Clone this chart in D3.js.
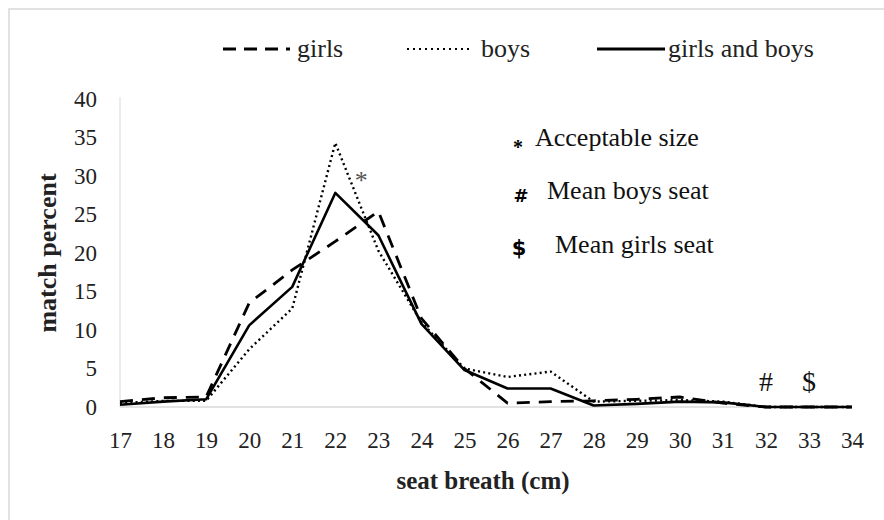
<!DOCTYPE html>
<html><head><meta charset="utf-8">
<script src="https://cdn.jsdelivr.net/npm/d3@7"></script>
<style>body{margin:0;background:#fff}svg{display:block;font-family:"Liberation Serif","Times New Roman",serif}</style>
</head><body><svg id="c" width="884" height="520"></svg>
<script>
const categories = [17,18,19,20,21,22,23,24,25,26,27,28,29,30,31,32,33,34];
const girls = [0.7,1.2,1.3,13.5,17.8,21.5,25.4,11.5,5,0.5,0.7,0.8,1,1.3,0.5,0,0,0];
const boys = [0.5,0.8,0.8,7.5,12.8,34.3,20.3,11,5,3.9,4.6,0.7,0.8,0.9,0.7,0,0,0];
const both = [0.3,0.7,1,10.6,15.6,27.8,22.3,10.8,4.8,2.4,2.4,0.2,0.4,0.7,0.6,0,0,0];
const yTicks = [0,5,10,15,20,25,30,35,40];
const seriesNames = ["girls","boys","girls and boys"];
const notes = [["*","Acceptable size"],["#","Mean boys seat"],["$","Mean girls seat"]];
const marks = [[22.6,"*"],[32,"#"],[33,"$"]];

const svg = d3.select("#c");
svg.append("rect").attr("x",9).attr("y",9).attr("width",900).attr("height",540)
  .attr("fill","none").attr("stroke","#d9d9d9").attr("stroke-width",1.5);

const x = d3.scaleLinear().domain([17,34]).range([120,852]);
const y = d3.scaleLinear().domain([0,40]).range([407,99]);

svg.append("line").attr("x1",120).attr("x2",120).attr("y1",y(40)-2).attr("y2",y(0)).attr("stroke","#d9d9d9").attr("stroke-width",1);
svg.append("line").attr("x1",120).attr("x2",852).attr("y1",y(0)).attr("y2",y(0)).attr("stroke","#d9d9d9").attr("stroke-width",1.5);

const yAxis = svg.append("g").attr("transform","translate(120,0)")
  .call(d3.axisLeft(y).tickValues(yTicks).tickSize(0).tickPadding(23));
yAxis.select(".domain").remove();
yAxis.selectAll("text").attr("font-size",23).attr("fill","#222").attr("font-family","Liberation Serif");

const xAxis = svg.append("g").attr("transform","translate(0,"+y(0)+")")
  .call(d3.axisBottom(x).tickValues(categories).tickFormat(d3.format("d")).tickSize(0).tickPadding(25));
xAxis.select(".domain").remove();
xAxis.selectAll("text").attr("font-size",23).attr("fill","#222").attr("font-family","Liberation Serif");

const styles = [
  {data:girls, dash:"13,9", w:2.8},
  {data:boys, dash:"2,3.2", w:2.4},
  {data:both, dash:null, w:2.6}
];
const line = d3.line().x((d,i)=>x(categories[i])).y(d=>y(d));
styles.forEach(s=>{
  svg.append("path").attr("d",line(s.data)).attr("fill","none").attr("stroke","#000")
    .attr("stroke-width",s.w).attr("stroke-dasharray",s.dash).attr("stroke-linejoin","round");
});

// legend
const leg = [[223,290,297],[407,470,481],[597,665,668]];
leg.forEach((l,i)=>{
  svg.append("line").attr("x1",l[0]).attr("x2",l[1]).attr("y1",49).attr("y2",49).attr("stroke","#000")
    .attr("stroke-width",i===1?2:3.2).attr("stroke-dasharray",i===0?"13,8":(i===1?"2,4":null));
  svg.append("text").attr("x",l[2]).attr("y",57).attr("font-size",26).attr("fill","#222").text(seriesNames[i]);
});

// note box
const noteX = [[518,535,146],[521,547,199],[519,555,253]];
notes.forEach((n,i)=>{
  const t = svg.append("text").attr("x",noteX[i][0]).attr("y",noteX[i][2]).attr("text-anchor","middle")
    .attr("fill","#000").text(n[0]);
  if(i===0) t.attr("font-size",20).attr("y",noteX[i][2]+8).attr("font-weight","bold");
  else if(i===1) t.attr("font-size",18).attr("font-weight","bold").attr("font-family","DejaVu Sans").attr("y",noteX[i][2]+3);
  else t.attr("font-size",21).attr("font-family","DejaVu Sans").attr("font-weight","bold").attr("y",noteX[i][2]+2);
  svg.append("text").attr("x",noteX[i][1]).attr("y",noteX[i][2]).attr("font-size",26).attr("fill","#111").text(n[1]);
});

// marks on chart
marks.forEach((m,i)=>{
  svg.append("text").attr("x",x(m[0])).attr("y",i===0?189:391).attr("text-anchor","middle")
    .attr("font-size",i===0?26:28).attr("fill",i===0?"#555":"#111").text(m[1]);
});

svg.append("text").attr("x",483).attr("y",489).attr("text-anchor","middle").attr("font-size",25)
  .attr("font-weight","bold").attr("fill","#222").text("seat breath (cm)");
svg.append("text").attr("transform","translate(56,253) rotate(-90)").attr("text-anchor","middle")
  .attr("font-size",26).attr("font-weight","bold").attr("fill","#222").text("match percent");
</script></body></html>
